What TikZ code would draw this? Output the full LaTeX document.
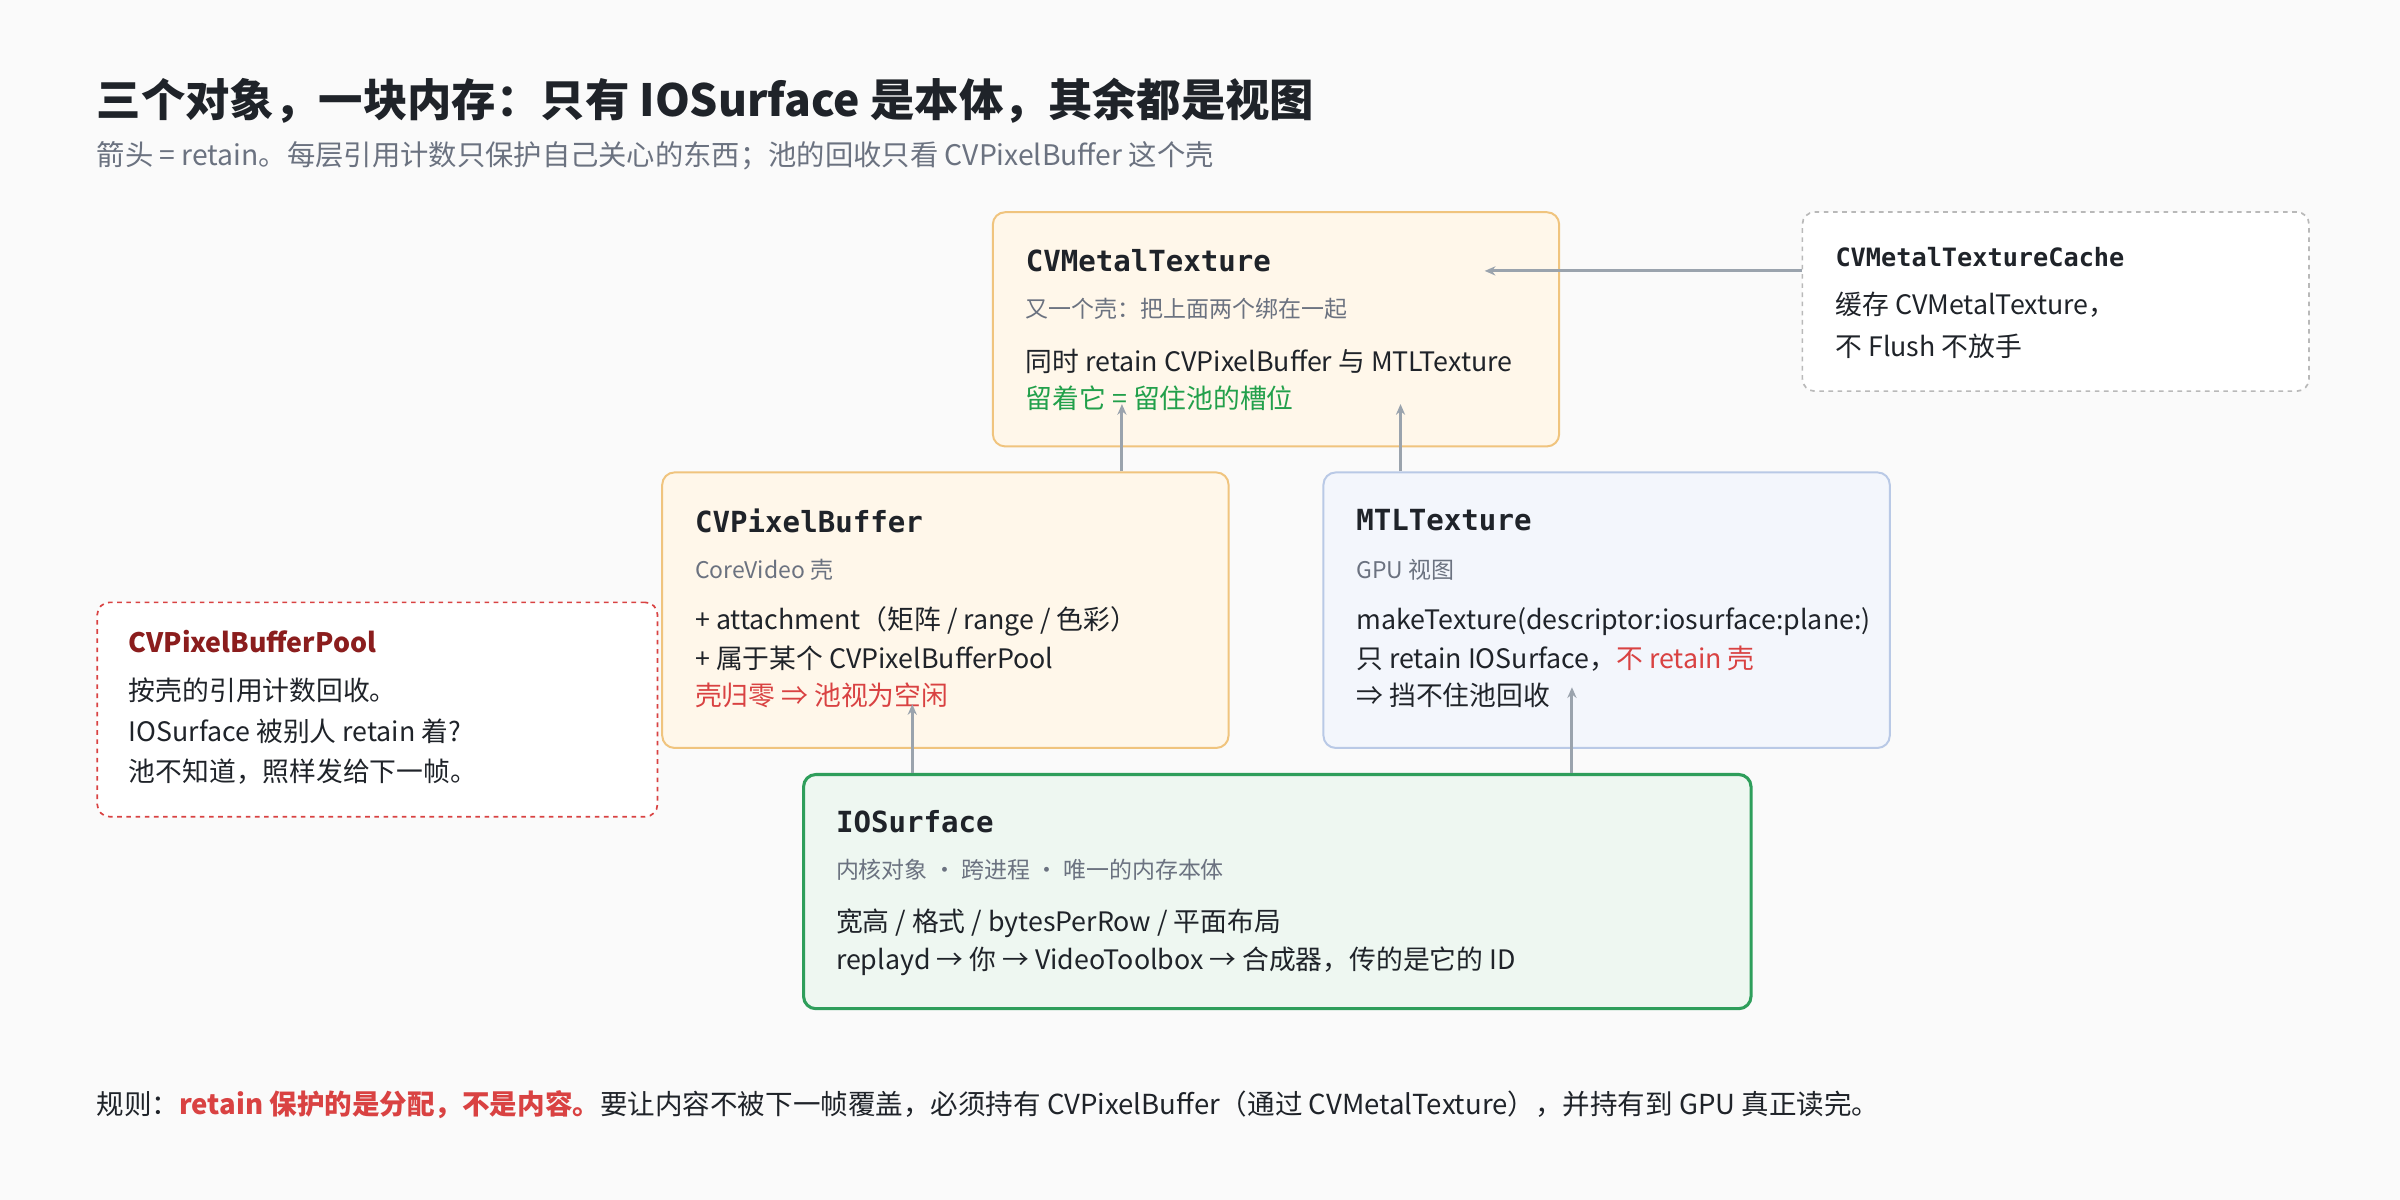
\documentclass[tikz,border=0pt]{standalone}
\usepackage{fontspec}
\setmainfont{Noto Sans CJK SC}
\newfontfamily\codefont{DejaVu Sans Mono}
\usetikzlibrary{arrows.meta}
\definecolor{ink}{HTML}{1F2329}
\definecolor{muted}{HTML}{6B7280}
\definecolor{arrowgray}{HTML}{9AA3AD}
\definecolor{shellfill}{HTML}{FFF7EA}
\definecolor{shelldraw}{HTML}{F0C47E}
\definecolor{gpufill}{HTML}{F3F6FC}
\definecolor{gpudraw}{HTML}{B9C9E6}
\definecolor{memfill}{HTML}{EEF7F1}
\definecolor{memdraw}{HTML}{2E9E5B}
\definecolor{warnred}{HTML}{D94242}
\definecolor{darkred}{HTML}{8B1D1D}
\definecolor{okgreen}{HTML}{22A04B}
\tikzset{
  box/.style={draw, rectangle, rounded corners=8pt, line width=1.3pt, anchor=north west},
  shell/.style={box, draw=shelldraw, fill=shellfill},
  gpu/.style={box, draw=gpudraw, fill=gpufill},
  mem/.style={box, draw=memdraw, fill=memfill, line width=2pt},
  side/.style={box, dashed, line width=1.1pt, fill=white},
  head/.style={anchor=west, inner sep=0pt, font=\codefont\bfseries\fontsize{19}{22}\selectfont, text=ink},
  sub/.style={anchor=west, inner sep=0pt, font=\fontsize{15}{18}\selectfont, text=muted},
  body/.style={anchor=west, inner sep=0pt, font=\fontsize{17.5}{20}\selectfont, text=ink},
  arr/.style={-{Stealth[length=7pt,width=6pt]}, draw=arrowgray, line width=2pt}
}
\begin{document}
\begin{tikzpicture}[x=1pt, y=-1pt]
 \fill[white!98!black] (0,0) rectangle (1568,784);
 \useasboundingbox (0,0) rectangle (1568,784);

 % heading
 \node[anchor=west, inner sep=0pt, font=\bfseries\fontsize{29}{34}\selectfont, text=ink] (title) at (63,66) {三个对象，一块内存：只有 IOSurface 是本体，其余都是视图};
 \node[anchor=west, inner sep=0pt, font=\fontsize{18.5}{22}\selectfont, text=muted] (subtitle) at (63,102) {箭头 = retain。每层引用计数只保护自己关心的东西；池的回收只看 CVPixelBuffer 这个壳};

 % boxes
 \node[shell, minimum width=370pt, minimum height=153pt] (cvmt) at (648,138) {};
 \node[side, draw=gray!55, minimum width=331pt, minimum height=117pt] (cache) at (1177,138) {};
 \node[shell, minimum width=370pt, minimum height=180pt] (cvpb) at (432,308) {};
 \node[gpu, minimum width=370pt, minimum height=180pt] (mtl) at (864,308) {};
 \node[side, draw=warnred, minimum width=366pt, minimum height=140pt] (pool) at (63,393) {};
 \node[mem, minimum width=619pt, minimum height=153pt] (ios) at (524,505) {};

 % CVMetalTexture
 \node[head] (cvmtT) at (670,170) {CVMetalTexture};
 \node[sub] (cvmtS) at (670,202) {又一个壳：把上面两个绑在一起};
 \node[body] (cvmtA) at (670,236) {同时 retain CVPixelBuffer 与 MTLTexture};
 \node[body, text=okgreen] (cvmtB) at (670,260) {留着它 = 留住池的槽位};

 % CVMetalTextureCache
 \node[head, font=\codefont\bfseries\fontsize{16.5}{20}\selectfont] (cacheT) at (1199,168) {CVMetalTextureCache};
 \node[body] (cacheA) at (1199,199) {缓存 CVMetalTexture，};
 \node[body] (cacheB) at (1199,226) {不 Flush 不放手};

 % CVPixelBuffer
 \node[head] (cvpbT) at (454,340) {CVPixelBuffer};
 \node[sub] (cvpbS) at (454,372) {CoreVideo 壳};
 \node[body] (cvpbA) at (454,406) {+ attachment（矩阵 / range / 色彩）};
 \node[body] (cvpbB) at (454,430) {+ 属于某个 CVPixelBufferPool};
 \node[body, text=warnred] (cvpbC) at (454,454) {壳归零 ⇒ 池视为空闲};

 % MTLTexture
 \node[head] (mtlT) at (886,340) {MTLTexture};
 \node[sub] (mtlS) at (886,372) {GPU 视图};
 \node[body] (mtlA) at (886,406) {makeTexture(descriptor:iosurface:plane:)};
 \node[body] (mtlB) at (886,430) {只 retain IOSurface，\textcolor{warnred}{不 retain 壳}};
 \node[body] (mtlC) at (886,454) {⇒ 挡不住池回收};

 % CVPixelBufferPool
 \node[head, text=darkred, font=\bfseries\fontsize{17.5}{20}\selectfont] (poolT) at (84,419) {CVPixelBufferPool};
 \node[body] (poolA) at (84,451) {按壳的引用计数回收。};
 \node[body] (poolB) at (84,478) {IOSurface 被别人 retain 着?};
 \node[body] (poolC) at (84,504) {池不知道，照样发给下一帧。};

 % IOSurface
 \node[head] (iosT) at (546,537) {IOSurface};
 \node[sub] (iosS) at (546,568) {内核对象 · 跨进程 · 唯一的内存本体};
 \node[body] (iosA) at (546,603) {宽高 / 格式 / bytesPerRow / 平面布局};
 \node[body] (iosB) at (546,628) {replayd → 你 → VideoToolbox → 合成器，传的是它的 ID};

 % arrow ends
 \coordinate (toPb) at (596,460);
 \coordinate (toMtl) at (1027,449);
 \coordinate (toCvA) at (733,264);
 \coordinate (toCvB) at (915,264);
 \coordinate (toCvC) at (970,177);

 \draw[arr] (ios.north -| toPb) -- (toPb);
 \draw[arr] (ios.north -| toMtl) -- (toMtl);
 \draw[arr] (cvpb.north -| toCvA) -- (toCvA);
 \draw[arr] (mtl.north -| toCvB) -- (toCvB);
 \draw[arr] (cache.west |- toCvC) -- (toCvC);

 % rule
 \node[anchor=west, inner sep=0pt, font=\fontsize{18}{21}\selectfont, text=ink] (rule) at (63,722) {规则：\textcolor{warnred}{\bfseries retain 保护的是分配，不是内容。}要让内容不被下一帧覆盖，必须持有 CVPixelBuffer（通过 CVMetalTexture），并持有到 GPU 真正读完。};
\end{tikzpicture}
\end{document}
